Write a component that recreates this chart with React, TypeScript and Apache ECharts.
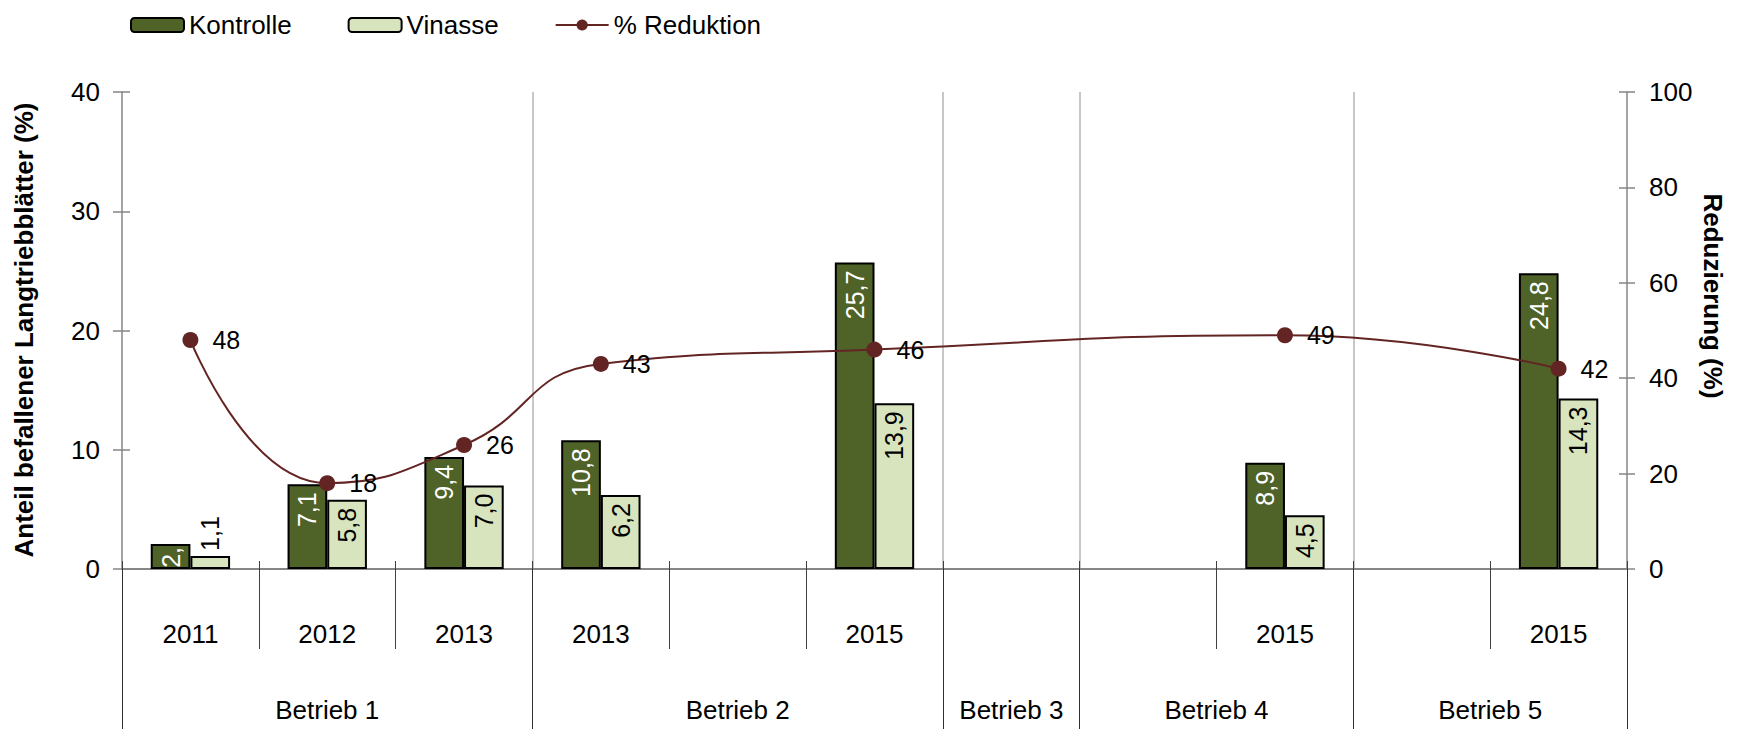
import React, { useEffect, useRef } from "react";
import * as echarts from "echarts";

const categories = ["2011", "2012", "2013", "2013", "", "2015", "", "", "2015", "", "2015"];
const groups = ["Betrieb 1", "Betrieb 2", "Betrieb 3", "Betrieb 4", "Betrieb 5"];
const groupSpans = [3, 3, 1, 2, 2];
const kontrolle = [2.1, 7.1, 9.4, 10.8, null, 25.7, null, null, 8.9, null, 24.8];
const vinasse = [1.1, 5.8, 7.0, 6.2, null, 13.9, null, null, 4.5, null, 14.3];
const reduktion = [48, 18, 26, 43, null, 46, null, null, 49, null, 42];

const FONT = "'Liberation Sans', Arial, Helvetica, sans-serif";
const C_K = "#4F6228";
const C_V = "#D7E4BD";
const C_L = "#632523";

const fmt1 = (v: number) => v.toFixed(1).replace(".", ",");

export default function App() {
  const ref = useRef<HTMLDivElement>(null);
  useEffect(() => {
    document.body.style.margin = "0";
    if (!ref.current) return;
    const chart = echarts.init(ref.current, undefined, { renderer: "svg" });

    // half-slot axis for group labels and boundaries
    const nHalf = categories.length * 2 + 1;
    const groupAxisData: string[] = new Array(nHalf).fill("");
    const boundaries = new Set<number>([0]);
    let start = 0;
    groups.forEach((g, i) => {
      groupAxisData[start * 2 + groupSpans[i]] = g;
      start += groupSpans[i];
      boundaries.add(start * 2);
    });
    const innerBoundaries = new Set<number>([...boundaries].filter((b) => b !== 0 && b !== nHalf - 1));

    const kData = kontrolle.map((v, i) =>
      i === 0 && v != null
        ? { value: v, label: { width: 27, overflow: "truncate", ellipsis: "", distance: 3 } }
        : v
    );
    const vData = vinasse.map((v) =>
      v != null && v < 2
        ? { value: v, label: { position: "top", align: "left", verticalAlign: "middle", color: "#000", distance: 5 } }
        : v
    );

    const textBase = { fontFamily: FONT, color: "#000" };

    chart.setOption({
      animation: false,
      textStyle: { fontFamily: FONT },
      grid: { left: 122, right: 113, top: 92, bottom: 160, containLabel: false },
      legend: {
        left: 125,
        top: 7,
        itemWidth: 53,
        itemHeight: 14,
        itemGap: 56,
        textStyle: { ...textBase, fontSize: 26 },
        data: ["Kontrolle", "Vinasse", "% Reduktion"],
      },
      graphic: [
        {
          type: "text",
          x: 24,
          y: 330,
          rotation: Math.PI / 2,
          style: {
            text: "Anteil befallener Langtriebblätter (%)",
            fontFamily: FONT,
            fontSize: 26,
            fontWeight: "bold",
            fill: "#000",
            align: "center",
            verticalAlign: "middle",
          },
        },
        {
          type: "text",
          x: 1713,
          y: 296,
          rotation: -Math.PI / 2,
          style: {
            text: "Reduzierung (%)",
            fontFamily: FONT,
            fontSize: 26,
            fontWeight: "bold",
            fill: "#000",
            align: "center",
            verticalAlign: "middle",
          },
        },
      ],
      xAxis: [
        {
          type: "category",
          position: "bottom",
          data: categories,
          boundaryGap: true,
          axisLine: { show: true, lineStyle: { color: "#868686", width: 2 } },
          axisTick: { show: true, interval: 0, length: 80, lineStyle: { color: "#404040", width: 1 } },
          axisLabel: { interval: 0, margin: 52, fontSize: 26, ...textBase },
          splitLine: { show: false },
        },
        {
          type: "category",
          position: "bottom",
          data: categories,
          boundaryGap: true,
          axisLine: { show: false },
          axisTick: { show: true, inside: true, interval: 0, length: 8, lineStyle: { color: "#404040", width: 1 } },
          axisLabel: { show: false },
          splitLine: { show: false },
        },
        {
          type: "category",
          position: "bottom",
          data: groupAxisData,
          boundaryGap: false,
          axisLine: { show: false },
          axisTick: {
            show: true,
            length: 160,
            interval: (idx: number) => boundaries.has(idx),
            lineStyle: { color: "#303030", width: 1 },
          },
          axisLabel: { interval: 0, margin: 128, fontSize: 26, ...textBase },
          splitLine: {
            show: true,
            interval: (idx: number) => innerBoundaries.has(idx),
            lineStyle: { color: "#B4B4B4", width: 1.5 },
          },
        },
      ],
      yAxis: [
        {
          type: "value",
          position: "left",
          min: 0,
          max: 40,
          interval: 10,
          axisLine: { show: true, lineStyle: { color: "#868686", width: 1.5 } },
          axisTick: { show: true, length: 9, lineStyle: { color: "#868686", width: 1.5 } },
          axisLabel: { margin: 22, fontSize: 26, ...textBase },
          splitLine: { show: false },
        },
        {
          type: "value",
          position: "left",
          min: 0,
          max: 40,
          interval: 10,
          axisLine: { show: false },
          axisTick: { show: true, inside: true, length: 8, lineStyle: { color: "#868686", width: 1.5 } },
          axisLabel: { show: false },
          splitLine: { show: false },
        },
        {
          type: "value",
          position: "right",
          min: 0,
          max: 100,
          interval: 20,
          axisLine: { show: true, lineStyle: { color: "#868686", width: 1.5 } },
          axisTick: { show: true, length: 8, lineStyle: { color: "#868686", width: 1.5 } },
          axisLabel: { margin: 22, fontSize: 26, ...textBase },
          splitLine: { show: false },
        },
        {
          type: "value",
          position: "right",
          min: 0,
          max: 100,
          interval: 20,
          axisLine: { show: false },
          axisTick: { show: true, inside: true, length: 8, lineStyle: { color: "#868686", width: 1.5 } },
          axisLabel: { show: false },
          splitLine: { show: false },
        },
      ],
      series: [
        {
          name: "Kontrolle",
          type: "bar",
          xAxisIndex: 0,
          yAxisIndex: 0,
          data: kData,
          barGap: "0%",
          barCategoryGap: "42%",
          itemStyle: { color: C_K, borderColor: "#000", borderWidth: 2 },
          label: {
            show: true,
            position: "insideTop",
            rotate: 90,
            align: "right",
            verticalAlign: "middle",
            distance: 8,
            fontSize: 25,
            fontFamily: FONT,
            color: "#fff",
            formatter: (p: any) => fmt1(p.value),
          },
          z: 2,
        },
        {
          name: "Vinasse",
          type: "bar",
          xAxisIndex: 0,
          yAxisIndex: 0,
          data: vData,
          barGap: "0%",
          barCategoryGap: "42%",
          itemStyle: { color: C_V, borderColor: "#000", borderWidth: 2 },
          label: {
            show: true,
            position: "insideTop",
            rotate: 90,
            align: "right",
            verticalAlign: "middle",
            distance: 8,
            fontSize: 25,
            fontFamily: FONT,
            color: "#000",
            formatter: (p: any) => fmt1(p.value),
          },
          z: 2,
        },
        {
          name: "% Reduktion",
          type: "line",
          xAxisIndex: 0,
          yAxisIndex: 2,
          data: reduktion,
          connectNulls: true,
          smooth: 0.5,
          symbol: "circle",
          symbolSize: 16,
          lineStyle: { color: C_L, width: 2 },
          itemStyle: { color: C_L },
          label: {
            show: true,
            position: "right",
            distance: 14,
            fontSize: 25,
            fontFamily: FONT,
            color: "#000",
            formatter: (p: any) => String(p.value),
          },
          z: 5,
        },
      ],
    });
    return () => chart.dispose();
  }, []);
  return <div ref={ref} style={{ width: 1740, height: 729 }} />;
}
